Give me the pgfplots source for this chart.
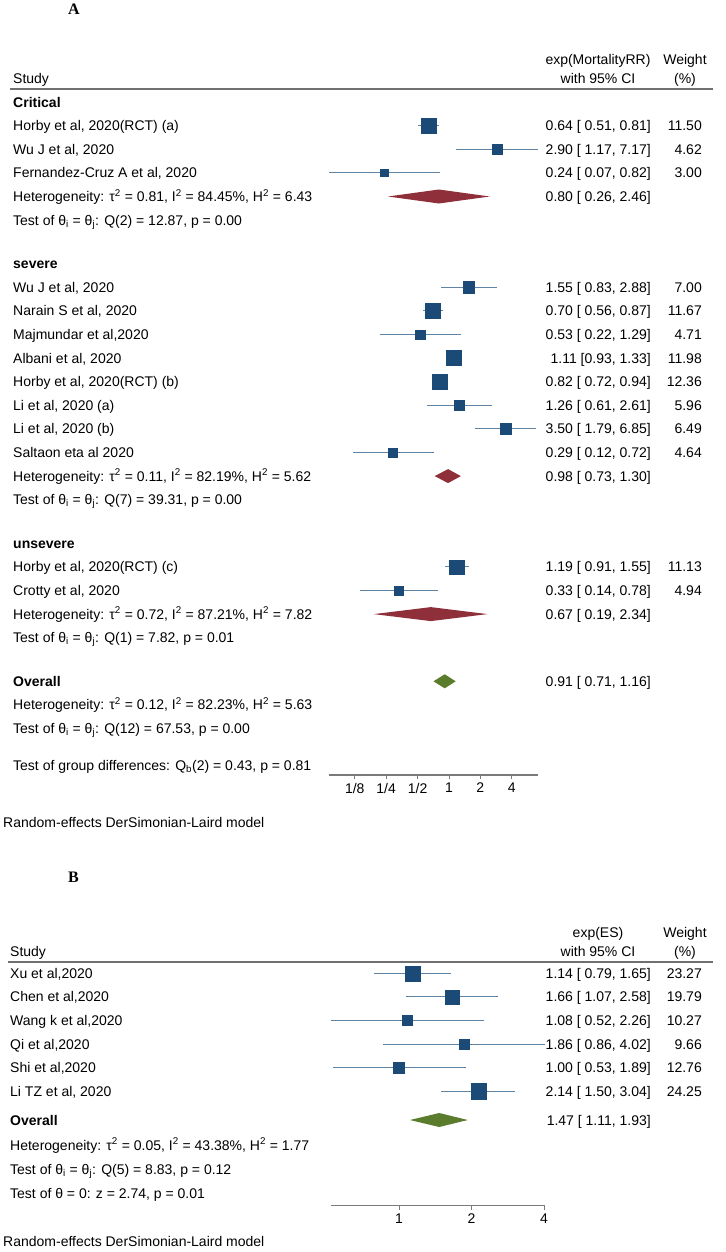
\documentclass[border=0pt]{standalone}
\usepackage{pgfplots}
\pgfplotsset{compat=1.18}
\usepackage{pgfplotstable}
\usepackage{fontspec}
\setmainfont{Liberation Sans}
\newfontfamily\serifface{Liberation Serif}
\definecolor{sq}{HTML}{1B4A77}
\definecolor{ci}{HTML}{5F84A6}
\definecolor{dred}{HTML}{8E2F3A}
\definecolor{dgreen}{HTML}{5B7B2D}
\definecolor{rulegray}{HTML}{707070}
\definecolor{axgray}{HTML}{7A7A7A}

\pgfplotstableread{
y est lo hi w
125.7 0.64 0.51 0.81 11.50
149.3 2.90 1.17 7.17 4.62
172.9 0.24 0.07 0.82 3.00
287.3 1.55 0.83 2.88 7.00
310.9 0.70 0.56 0.87 11.67
334.5 0.53 0.22 1.29 4.71
358.1 1.11 0.93 1.33 11.98
381.7 0.82 0.72 0.94 12.36
405.3 1.26 0.61 2.61 5.96
428.9 3.50 1.79 6.85 6.49
452.5 0.29 0.12 0.72 4.64
566.9 1.19 0.91 1.55 11.13
590.5 0.33 0.14 0.78 4.94
}\studiesA

\pgfplotstableread{
y est lo hi w
973.3 1.14 0.79 1.65 23.27
996.9 1.66 1.07 2.58 19.79
1020.5 1.08 0.52 2.26 10.27
1044.1 1.86 0.86 4.02 9.66
1067.7 1.00 0.53 1.89 12.76
1091.3 2.14 1.50 3.04 24.25
}\studiesB

\newcommand{\rowL}[3]{\node[anchor=base west,inner sep=0pt] at (#1pt,{-(#2+5)*1pt}) {#3};}
\newcommand{\rowC}[3]{\node[anchor=base,inner sep=0pt] at (#1pt,{-(#2+5)*1pt}) {#3};}
\newcommand{\rowCI}[2]{\node[anchor=base east,inner sep=0pt] at (651pt,{-(#1+5)*1pt}) {#2};}
\newcommand{\rowW}[2]{\node[anchor=base east,inner sep=0pt] at (702pt,{-(#1+5)*1pt}) {#2};}
\newcommand{\sq}[1]{\textsuperscript{2}}
\newcommand{\thij}{θ\textsubscript{i} = θ\textsubscript{j}}

\begin{document}
\fontsize{14}{17}\selectfont
\begin{tikzpicture}
\path (0pt,0pt) rectangle (725pt,-1252pt);

% ---------------- Panel A ----------------
\begin{axis}[
  scale only axis, clip=false,
  xmode=log, log basis x=2,
  axis y line=none, axis x line*=bottom,
  x axis line style={-, draw=axgray, line width=1.2pt},
  xtick style={draw=axgray, line width=0.8pt},
  tick align=outside, major tick length=4pt,
  xticklabel style={font=\fontsize{14}{16}\selectfont, inner sep=0pt, yshift=-4pt},
  at={(328.5pt,-775pt)}, anchor=south west,
  width=209.7pt, height=685pt,
  xmin=0.07, xmax=7.17, ymin=-775, ymax=-90,
  xtick={0.125,0.25,0.5,1,2,4}, xticklabels={1/8,1/4,1/2,1,2,4},
]
\addplot[only marks, mark=none,
    error bars/.cd, x dir=both, x explicit, error mark=none,
    error bar style={draw=ci, solid, line width=1pt}]
  table[x=est, y expr=-\thisrow{y},
  x error minus expr=\thisrow{est}-\thisrow{lo},
  x error plus expr=\thisrow{hi}-\thisrow{est}] {\studiesA};
\addplot[scatter, only marks, mark=square*,
  scatter/use mapped color={draw=sq, fill=sq},
  visualization depends on={2.15*sqrt(\thisrow{w}) \as \msz},
  scatter/@pre marker code/.append style={/tikz/mark size=\msz}]
  table[x=est, y expr=-\thisrow{y}] {\studiesA};
\addplot[fill=dred, draw=none] coordinates {(0.26,-196.5) (0.80,-189.5) (2.46,-196.5) (0.80,-203.5)} --cycle;
\addplot[fill=dred, draw=none] coordinates {(0.73,-476.1) (0.98,-469.1) (1.30,-476.1) (0.98,-483.1)} --cycle;
\addplot[fill=dred, draw=none] coordinates {(0.19,-614.1) (0.67,-607.1) (2.34,-614.1) (0.67,-621.1)} --cycle;
\addplot[fill=dgreen, draw=none] coordinates {(0.71,-681.3) (0.91,-674.3) (1.16,-681.3) (0.91,-688.3)} --cycle;
\end{axis}

\node[anchor=base west,inner sep=0pt,font=\serifface\bfseries\fontsize{16}{18}\selectfont] at (68pt,-15pt) {A};
\rowC{598}{60}{exp(MortalityRR)}
\rowC{598}{79}{with 95\% CI}
\rowC{685}{60}{Weight}
\rowC{685}{79}{(\%)}
\rowL{13}{79}{Study}
\draw[rulegray, line width=1.8pt] (10pt,-89.3pt) -- (713pt,-89.3pt);

\rowL{13}{102.1}{\textbf{Critical}}
\rowL{13}{125.7}{Horby et al, 2020(RCT) (a)}
\rowL{13}{149.3}{Wu J et al, 2020}
\rowL{13}{172.9}{Fernandez-Cruz A et al, 2020}
\rowL{13}{196.5}{Heterogeneity: τ\sq{} = 0.81, I\sq{} = 84.45\%, H\sq{} = 6.43}
\rowL{13}{220.1}{Test of \thij: Q(2) = 12.87, p = 0.00}
\rowL{13}{263.7}{\textbf{severe}}
\rowL{13}{287.3}{Wu J et al, 2020}
\rowL{13}{310.9}{Narain S et al, 2020}
\rowL{13}{334.5}{Majmundar et al,2020}
\rowL{13}{358.1}{Albani et al, 2020}
\rowL{13}{381.7}{Horby et al, 2020(RCT) (b)}
\rowL{13}{405.3}{Li et al, 2020 (a)}
\rowL{13}{428.9}{Li et al, 2020 (b)}
\rowL{13}{452.5}{Saltaon eta al 2020}
\rowL{13}{476.1}{Heterogeneity: τ\sq{} = 0.11, I\sq{} = 82.19\%, H\sq{} = 5.62}
\rowL{13}{499.7}{Test of \thij: Q(7) = 39.31, p = 0.00}
\rowL{13}{543.3}{\textbf{unsevere}}
\rowL{13}{566.9}{Horby et al, 2020(RCT) (c)}
\rowL{13}{590.5}{Crotty et al, 2020}
\rowL{13}{614.1}{Heterogeneity: τ\sq{} = 0.72, I\sq{} = 87.21\%, H\sq{} = 7.82}
\rowL{13}{637.7}{Test of \thij: Q(1) = 7.82, p = 0.01}
\rowL{13}{681.3}{\textbf{Overall}}
\rowL{13}{704.9}{Heterogeneity: τ\sq{} = 0.12, I\sq{} = 82.23\%, H\sq{} = 5.63}
\rowL{13}{728.5}{Test of \thij: Q(12) = 67.53, p = 0.00}
\rowL{13}{765}{Test of group differences: Q\textsubscript{b}(2) = 0.43, p = 0.81}
\rowL{3}{822}{Random-effects DerSimonian-Laird model}

\rowCI{125.7}{0.64 [ 0.51, 0.81]} \rowW{125.7}{11.50}
\rowCI{149.3}{2.90 [ 1.17, 7.17]} \rowW{149.3}{4.62}
\rowCI{172.9}{0.24 [ 0.07, 0.82]} \rowW{172.9}{3.00}
\rowCI{196.5}{0.80 [ 0.26, 2.46]}
\rowCI{287.3}{1.55 [ 0.83, 2.88]} \rowW{287.3}{7.00}
\rowCI{310.9}{0.70 [ 0.56, 0.87]} \rowW{310.9}{11.67}
\rowCI{334.5}{0.53 [ 0.22, 1.29]} \rowW{334.5}{4.71}
\rowCI{358.1}{1.11 [0.93, 1.33]} \rowW{358.1}{11.98}
\rowCI{381.7}{0.82 [ 0.72, 0.94]} \rowW{381.7}{12.36}
\rowCI{405.3}{1.26 [ 0.61, 2.61]} \rowW{405.3}{5.96}
\rowCI{428.9}{3.50 [ 1.79, 6.85]} \rowW{428.9}{6.49}
\rowCI{452.5}{0.29 [ 0.12, 0.72]} \rowW{452.5}{4.64}
\rowCI{476.1}{0.98 [ 0.73, 1.30]}
\rowCI{566.9}{1.19 [ 0.91, 1.55]} \rowW{566.9}{11.13}
\rowCI{590.5}{0.33 [ 0.14, 0.78]} \rowW{590.5}{4.94}
\rowCI{614.1}{0.67 [ 0.19, 2.34]}
\rowCI{681.3}{0.91 [ 0.71, 1.16]}

% ---------------- Panel B ----------------
\begin{axis}[
  scale only axis, clip=false,
  xmode=log, log basis x=2,
  axis y line=none, axis x line*=bottom,
  x axis line style={-, draw=axgray, line width=1.2pt},
  xtick style={draw=axgray, line width=0.8pt},
  tick align=outside, major tick length=4pt,
  xticklabel style={font=\fontsize{14}{16}\selectfont, inner sep=0pt, yshift=-4pt},
  at={(330.6pt,-1205.7pt)}, anchor=south west,
  width=213.9pt, height=243.7pt,
  xmin=0.52, xmax=4.02, ymin=-1205.7, ymax=-962,
  xtick={1,2,4}, xticklabels={1,2,4},
]
\addplot[only marks, mark=none,
    error bars/.cd, x dir=both, x explicit, error mark=none,
    error bar style={draw=ci, solid, line width=1pt}]
  table[x=est, y expr=-\thisrow{y},
  x error minus expr=\thisrow{est}-\thisrow{lo},
  x error plus expr=\thisrow{hi}-\thisrow{est}] {\studiesB};
\addplot[scatter, only marks, mark=square*,
  scatter/use mapped color={draw=sq, fill=sq},
  visualization depends on={1.575*sqrt(\thisrow{w}) \as \msz},
  scatter/@pre marker code/.append style={/tikz/mark size=\msz}]
  table[x=est, y expr=-\thisrow{y}] {\studiesB};
\addplot[fill=dgreen, draw=none] coordinates {(1.11,-1120) (1.47,-1113) (1.93,-1120) (1.47,-1127)} --cycle;
\end{axis}

\node[anchor=base west,inner sep=0pt,font=\serifface\bfseries\fontsize{16}{18}\selectfont] at (68pt,-882pt) {B};
\rowC{598}{932.7}{exp(ES)}
\rowC{598}{951.7}{with 95\% CI}
\rowC{685}{932.7}{Weight}
\rowC{685}{951.7}{(\%)}
\rowL{10}{951.7}{Study}
\draw[rulegray, line width=1.8pt] (8pt,-962pt) -- (713pt,-962pt);

\rowL{10}{973.3}{Xu et al,2020}
\rowL{10}{996.9}{Chen et al,2020}
\rowL{10}{1020.5}{Wang k et al,2020}
\rowL{10}{1044.1}{Qi et al,2020}
\rowL{10}{1067.7}{Shi et al,2020}
\rowL{10}{1091.3}{Li TZ et al, 2020}
\rowL{10}{1120}{\textbf{Overall}}
\rowL{10}{1145}{Heterogeneity: τ\sq{} = 0.05, I\sq{} = 43.38\%, H\sq{} = 1.77}
\rowL{10}{1169}{Test of \thij: Q(5) = 8.83, p = 0.12}
\rowL{10}{1193}{Test of θ = 0: z = 2.74, p = 0.01}
\rowL{3}{1241}{Random-effects DerSimonian-Laird model}

\rowCI{973.3}{1.14 [ 0.79, 1.65]} \rowW{973.3}{23.27}
\rowCI{996.9}{1.66 [ 1.07, 2.58]} \rowW{996.9}{19.79}
\rowCI{1020.5}{1.08 [ 0.52, 2.26]} \rowW{1020.5}{10.27}
\rowCI{1044.1}{1.86 [ 0.86, 4.02]} \rowW{1044.1}{9.66}
\rowCI{1067.7}{1.00 [ 0.53, 1.89]} \rowW{1067.7}{12.76}
\rowCI{1091.3}{2.14 [ 1.50, 3.04]} \rowW{1091.3}{24.25}
\rowCI{1120}{1.47 [ 1.11, 1.93]}
\end{tikzpicture}
\end{document}
